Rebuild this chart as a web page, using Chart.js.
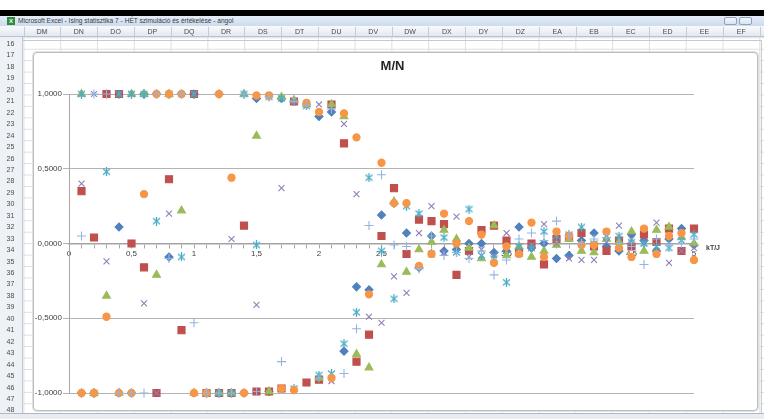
<!DOCTYPE html>
<html>
<head>
<meta charset="utf-8">
<script src="https://cdn.jsdelivr.net/npm/chart.js@4"></script>
<style>
  body { margin: 0; width: 764px; height: 419px; overflow: hidden; background: #fff; position: relative;
         font-family: "Liberation Sans", Arial, sans-serif; }
  .abs { position: absolute; }
  #blackbar { left: 0; top: 10px; width: 764px; height: 6px; background: #000; }
  #titlebar { left: 0; top: 16px; width: 764px; height: 10px; background: linear-gradient(#e4edf8, #cddbee);
              font-size: 6.6px; line-height: 10px; color: #3a3a3a; white-space: nowrap; }
  #xlicon { left: 7px; top: 17px; width: 8px; height: 8px; background: #2f8a3c; color: #fff; font-size: 6px;
            line-height: 8px; text-align: center; font-weight: bold; }
  .winbtn { top: 17px; width: 13px; height: 8px; border: 1px solid #8ea3c0; border-radius: 2px;
            background: linear-gradient(#f4f7fb, #d9e3f0); box-sizing: border-box; }
  #colhead { left: 0; top: 26px; width: 764px; height: 11px; background: linear-gradient(#f8fafc, #e4e9f0);
             border-bottom: 1px solid #b6c2d2; box-sizing: border-box; }
  .colname { top: 26px; height: 11px; font-size: 7px; line-height: 11px; color: #4a4a4a; text-align: center; }
  .colsep { top: 27px; width: 1px; height: 9px; background: #c3ccd8; }
  #rowhead { left: 0; top: 37px; width: 22px; height: 377px; background: #eef1f5; border-right: 1px solid #b6c2d2; }
  .rowname { left: 0; width: 21px; font-size: 7px; color: #4a4a4a; text-align: center; }
  #sheet { left: 23px; top: 37px; width: 741px; height: 377px;
           background-image: linear-gradient(to right, #dadee4 1px, transparent 1px),
                             linear-gradient(to bottom, #dadee4 1px, transparent 1px);
           background-size: 36.8px 11.45px; background-position: 0.4px 0.3px; }
  #frame { left: 22px; top: 40px; width: 740px; height: 374px; border: 1px solid #c9c9c9; box-sizing: border-box; }
  #chartbox { left: 33px; top: 52px; width: 725px; height: 359px; background: #fff; border: 1px solid #bdbdbd;
              border-radius: 4px; box-sizing: border-box; box-shadow: 0 0 0 1px #e2e2e2; }
  #cv { left: 33px; top: 53px; }
  #bottombar { left: 0; top: 413px; width: 764px; height: 6px; background: #e9edf2; border-top: 1px solid #aeb8c6; box-sizing: border-box; }
</style>
</head>
<body>
<div id="blackbar" class="abs"></div>
<div id="titlebar" class="abs"><span style="position:absolute;left:18px;">Microsoft Excel - Ising statisztika 7 - HÉT szimuláció és értékelése - angol</span></div>
<div id="xlicon" class="abs">X</div>
<div class="abs winbtn" style="left:724px;"></div>
<div class="abs winbtn" style="left:739px;"></div>
<div id="colhead" class="abs"></div>
<div id="sheet" class="abs"></div>
<div id="rowhead" class="abs"></div>
<div id="frame" class="abs"></div>
<div id="chartbox" class="abs"></div>
<canvas id="cv" class="abs" width="725" height="357"></canvas>
<div id="bottombar" class="abs"></div>
<script>
// spreadsheet chrome
const colNames = ['DM','DN','DO','DP','DQ','DR','DS','DT','DU','DV','DW','DX','DY','DZ','EA','EB','EC','ED','EE','EF','EG'];
colNames.forEach((n, i) => {
  const d = document.createElement('div');
  d.className = 'abs colname';
  d.style.left = (23.6 + i * 36.8) + 'px';
  d.style.width = '36.8px';
  d.textContent = n;
  document.body.appendChild(d);
  const s = document.createElement('div');
  s.className = 'abs colsep';
  s.style.left = Math.round(23.6 + i * 36.8) + 'px';
  document.body.appendChild(s);
});
for (let r = 16; r <= 48; r++) {
  const d = document.createElement('div');
  d.className = 'abs rowname';
  d.style.top = (40 + (r - 16) * 11.45) + 'px';
  d.textContent = r;
  document.body.appendChild(d);
}

// chart data
const kT = [0.1, 0.2, 0.3, 0.4, 0.5, 0.6, 0.7, 0.8, 0.9, 1.0,
            1.1, 1.2, 1.3, 1.4, 1.5, 1.6, 1.7, 1.8, 1.9, 2.0,
            2.1, 2.2, 2.3, 2.4, 2.5, 2.6, 2.7, 2.8, 2.9, 3.0,
            3.1, 3.2, 3.3, 3.4, 3.5, 3.6, 3.7, 3.8, 3.9, 4.0,
            4.1, 4.2, 4.3, 4.4, 4.5, 4.6, 4.7, 4.8, 4.9, 5.0];

const run1 = [-1, -1, 1, 0.11, -1, 1, 1, -0.09, 1, 1,
              -1, 1, -1, -1, 0.97, -0.99, 0.97, 0.95, 0.93, 0.85,
              0.88, -0.72, -0.29, -0.31, 0.19, 0.27, 0.07, -0.16, 0.05, -0.05,
              -0.04, 0, 0, -0.06, -0.05, 0.11, -0.03, 0, -0.1, -0.08,
              0.02, 0.07, -0.02, -0.05, 0.06, 0.02, -0.05, 0.03, 0.1, -0.01];
const run2 = [0.35, 0.04, 1, 1, 0, -0.16, -1, 0.43, -0.58, 1,
              -1, -1, -1, 0.12, -0.99, -0.99, -0.97, 0.95, -0.93, -0.91,
              0.93, 0.67, -0.79, -0.61, 0.05, 0.37, -0.07, 0.16, 0.15, 0.13,
              -0.21, -0.05, 0.09, 0.12, 0.02, -0.06, 0, -0.14, 0.03, 0.04,
              0.07, -0.02, -0.05, 0.02, -0.02, 0.06, 0.01, 0.1, -0.05, 0.1];
const run3 = [1, -1, -0.35, -1, 1, 1, -0.21, 1, 0.22, -1,
              -1, -1, -1, 1, 0.72, -0.99, 0.98, 0.96, 0.93, -0.9,
              0.93, 0.85, -0.74, -0.83, -0.14, 0.28, -0.19, -0.04, 0.01, 0.09,
              0.03, -0.03, -0.1, 0.12, -0.08, -0.02, -0.09, -0.05, -0.01, 0.03,
              -0.05, -0.06, 0.03, 0.01, 0.08, -0.05, 0.09, 0.11, 0.04, 0];
const run4 = [0.40, 1, -0.12, 1, 1, -0.40, -1, 0.2, 1, 1,
              -1, 1, 0.03, -1, -0.41, 0.99, 0.37, 0.95, 0.94, 0.93,
              -0.92, 0.80, 0.33, -0.49, -0.53, -0.22, -0.33, 0.07, 0.25, -0.06,
              0.18, -0.09, -0.04, -0.08, 0.07, -0.05, -0.01, 0.13, 0, -0.1,
              -0.11, -0.11, 0.01, 0.12, 0.03, 0, 0.14, -0.13, -0.05, -0.03];
const run5 = [1, -1, 0.48, 1, 1, 1, 0.15, 1, -0.09, 1,
              -1, -1, -1, 1, -0.01, 0.98, 0.97, -0.97, 0.92, -0.88,
              -0.87, -0.67, -0.46, 0.44, -0.05, -0.37, 0.25, 0.2, -0.07, 0.04,
              -0.06, 0.23, -0.08, -0.1, -0.26, -0.02, -0.03, 0.08, 0.05, 0.06,
              0.11, 0, 0.05, 0.05, 0.01, 0, -0.02, -0.03, 0.02, 0.06];
const run6 = [-1, -1, -0.49, -1, -1, 0.33, 1, 1, 1, -1,
              -1, 1, 0.44, -1, 0.99, 0.99, -0.97, -0.98, 0.94, 0.88,
              -0.9, 0.87, 0.71, -0.34, 0.54, 0.27, 0.27, -0.15, -0.07, 0.2,
              0, 0.15, 0.06, -0.13, -0.02, -0.07, 0.14, -0.09, 0.08, 0.05,
              -0.01, -0.01, 0.08, -0.03, -0.09, 0.1, -0.07, 0.05, 0.07, -0.11];
const run7 = [0.05, 1, 1, -1, -1, -1, 1, -0.1, 1, -0.53,
              -1, -1, -1, 1, -0.99, 0.98, -0.79, 0.95, 0.93, -0.9,
              0.9, -0.87, -0.57, 0.12, 0.46, -0.01, -0.02, -0.17, 0.05, -0.08,
              -0.06, -0.1, -0.05, -0.21, -0.11, 0.03, 0.07, 0.02, 0.15, 0.05,
              0, 0.03, 0.04, 0, -0.02, -0.14, 0.03, -0.01, 0, 0.03];

const yTicks = [-1, -0.5, 0, 0.5, 1];

// Excel-like asterisk marker (x with a vertical bar)
function starMarker(color) {
  const c = document.createElement('canvas');
  c.width = 9; c.height = 9;
  const g = c.getContext('2d');
  g.strokeStyle = color;
  g.lineWidth = 1.3;
  g.beginPath();
  g.moveTo(1, 1.5); g.lineTo(8, 7.5);
  g.moveTo(8, 1.5); g.lineTo(1, 7.5);
  g.moveTo(4.5, 0); g.lineTo(4.5, 9);
  g.stroke();
  return c;
}

// marker look for each run (Excel 2010 default palette)
const runs = [run1, run2, run3, run4, run5, run6, run7];
const looks = [
  { color: '#4F81BD', style: 'rectRot', r: 4 },
  { color: '#C0504D', style: 'rect', r: 5 },
  { color: '#9BBB59', style: 'triangle', r: 4.5 },
  { color: '#8F7FB8', style: 'crossRot', r: 4.2 },
  { color: '#4BACC6', style: starMarker('#4BACC6'), r: 4.5 },
  { color: '#F79646', style: 'circle', r: 3.6 },
  { color: '#93B5E1', style: 'cross', r: 4.5 }
];

const datasets = runs.map((vals, i) => ({
  label: 'Run ' + (i + 1),
  data: kT.map((x, j) => ({ x: x, y: vals[j] })),
  pointStyle: looks[i].style,
  pointRadius: looks[i].r,
  pointHoverRadius: looks[i].r,
  backgroundColor: looks[i].color,
  borderColor: looks[i].color,
  pointBorderWidth: 1.1,
  showLine: false,
  clip: false,
  order: 6 - i
}));

const fmtX = v => String(Math.round(v * 10) / 10).replace('.', ',');

const extras = {
  id: 'extras',
  afterDraw(chart) {
    const ctx = chart.ctx;
    const area = chart.chartArea;
    const y0 = chart.scales.y.getPixelForValue(0);
    ctx.save();
    ctx.fillStyle = '#262626';
    ctx.font = 'bold 13px "Liberation Sans", Arial, sans-serif';
    ctx.textAlign = 'center';
    ctx.textBaseline = 'middle';
    ctx.fillText('M/N', chart.width / 2 - 3, 13);
    ctx.font = 'bold 7px "Liberation Sans", Arial, sans-serif';
    ctx.textAlign = 'left';
    ctx.fillStyle = '#404040';
    ctx.fillText('kT/J', area.right + 12, y0 + 5);
    ctx.restore();
  }
};

new Chart(document.getElementById('cv'), {
  type: 'scatter',
  data: { datasets: datasets },
  options: {
    responsive: false,
    animation: false,
    layout: { padding: { top: 41, left: 0, right: 64, bottom: 17 } },
    plugins: { legend: { display: false }, tooltip: { enabled: false }, title: { display: false } },
    scales: {
      x: {
        type: 'linear',
        position: { y: 0 },
        min: 0,
        max: 5,
        border: { color: '#a3a3a3', width: 1.5 },
        grid: { drawOnChartArea: false, drawTicks: true, tickLength: 4, color: '#a8a8a8' },
        ticks: {
          stepSize: 0.1,
          autoSkip: false,
          maxRotation: 0,
          padding: 1,
          color: '#404040',
          font: { size: 8, family: '"Liberation Sans", Arial, sans-serif' },
          callback: v => (Math.round(v * 10) % 5 === 0 ? fmtX(v) : '')
        }
      },
      y: {
        type: 'linear',
        min: -1,
        max: 1,
        afterBuildTicks: s => { s.ticks = yTicks.map(v => ({ value: v })); },
        afterFit: s => { s.width = 36; },
        border: { color: '#a6a6a6', width: 1 },
        grid: { color: '#b3b3b3', tickLength: 6, lineWidth: 1 },
        ticks: {
          padding: 1,
          color: '#404040',
          font: { size: 8, family: '"Liberation Sans", Arial, sans-serif' },
          callback: v => v.toFixed(4).replace('.', ',')
        }
      }
    }
  },
  plugins: [extras]
});
</script>
</body>
</html>
